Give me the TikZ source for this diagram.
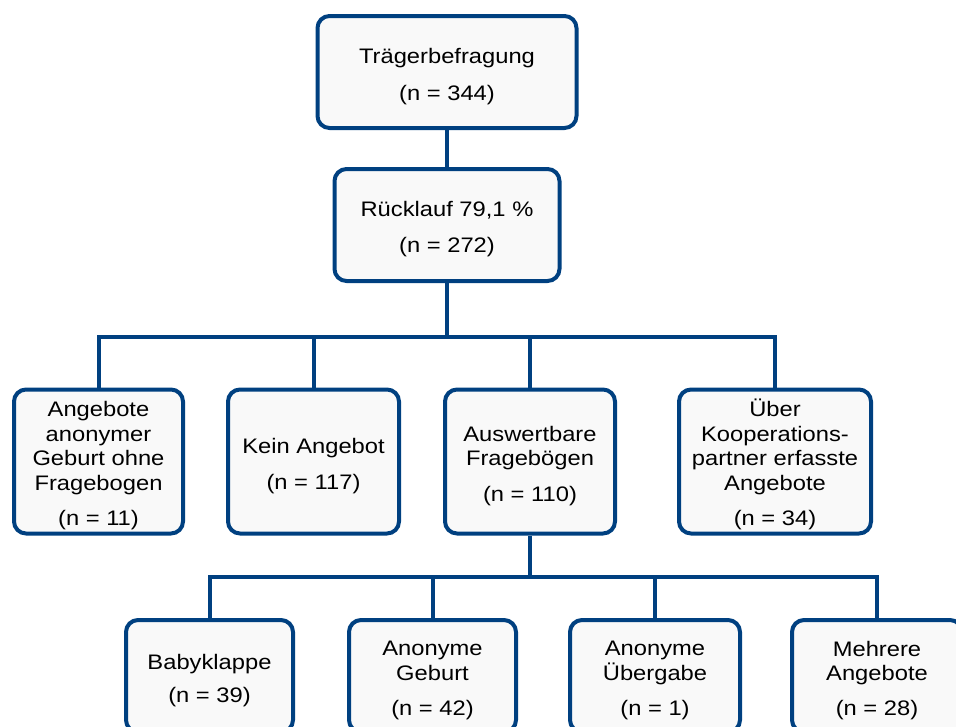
\documentclass[tikz,border=0pt]{standalone}
\usepackage{fontspec}
\setmainfont{Liberation Sans}[FakeStretch=1.13]
\definecolor{navy}{RGB}{0,64,128}
\definecolor{boxfill}{RGB}{249,249,249}
\newcommand\topstrut{\rule{0pt}{24pt}}
\tikzset{
  box/.style={draw=navy, line width=4pt, fill=boxfill, rounded corners=12pt,
    align=center, inner sep=0pt, font=\fontsize{21}{24.5}\selectfont, text=black},
  conn/.style={draw=navy, line width=4pt}
}
\begin{document}
\begin{tikzpicture}[x=1pt,y=-1pt]
\useasboundingbox (0,0) rectangle (956,726);
% top
\node[box, minimum width=259pt, minimum height=112pt] (top) at (447,72) {\topstrut Trägerbefragung\\[12pt](n = 344)};
\node[box, minimum width=225pt, minimum height=112pt] (rueck) at (447,225) {\topstrut Rücklauf 79,1 \%\\[11.5pt](n = 272)};
% row 1
\node[box, minimum width=169pt, minimum height=144pt] (a) at (98.5,461.5) {\topstrut Angebote\\anonymer\\Geburt ohne\\Fragebogen\\[11pt](n = 11)};
\node[box, minimum width=171pt, minimum height=144pt] (b) at (313.5,461.5) {\topstrut Kein Angebot\\[11pt](n = 117)};
\node[box, minimum width=170pt, minimum height=144pt] (c) at (530,461.5) {\topstrut Auswertbare\\Fragebögen\\[11pt](n = 110)};
\node[box, minimum width=192pt, minimum height=144pt] (d) at (775,461.5) {\topstrut Über\\Kooperations-\\partner erfasste\\Angebote\\[11pt](n = 34)};
% row 2
\node[box, minimum width=167pt, minimum height=112pt] (e) at (209.5,676) {\topstrut Babyklappe\\[9pt](n = 39)};
\node[box, minimum width=167pt, minimum height=112pt] (f) at (432.5,676) {\topstrut Anonyme\\Geburt\\[11pt](n = 42)};
\node[box, minimum width=170pt, minimum height=112pt] (g) at (655,676) {\topstrut Anonyme\\Übergabe\\[11pt](n = 1)};
\node[box, minimum width=170pt, minimum height=112pt] (h) at (877,676) {\topstrut Mehrere\\Angebote\\[10pt](n = 28)};
% connectors
\coordinate (bar1) at (0,337);
\coordinate (bar2) at (0,577);
\draw[conn] (top.south) -- (rueck.north);
\draw[conn] (rueck.south) -- (rueck.south |- bar1);
\draw[conn] (a.north) -- (a.north |- bar1) -- (d.north |- bar1) -- (d.north);
\draw[conn] (b.north) -- (b.north |- bar1);
\draw[conn] (c.north) -- (c.north |- bar1);
\draw[conn] (c.south) -- (c.south |- bar2);
\draw[conn] (e.north) -- (e.north |- bar2) -- (h.north |- bar2) -- (h.north);
\draw[conn] (f.north) -- (f.north |- bar2);
\draw[conn] (g.north) -- (g.north |- bar2);
\end{tikzpicture}
\end{document}
